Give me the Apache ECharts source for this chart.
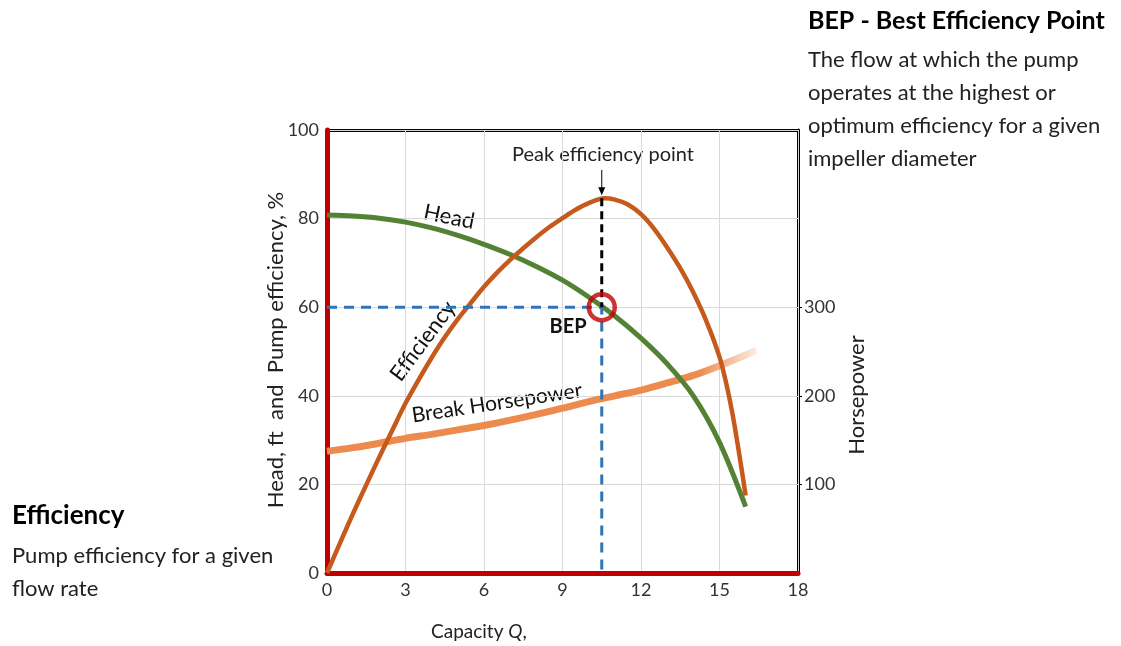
<!DOCTYPE html>
<html>
<head>
<meta charset="utf-8">
<script src="https://cdn.jsdelivr.net/npm/echarts@6/dist/echarts.min.js"></script>
<style>html,body{margin:0;padding:0;background:#fff;}#c{width:1121px;height:646px;}</style>
</head>
<body>
<div id="c"></div>
<script>
// Capacity values (x) and curve values
const headX = [0, 1, 2, 3, 4, 5, 6, 7, 8, 9, 10, 11, 12, 13, 14, 15, 16];
const headY = [80.8, 80.6, 80.1, 79.2, 77.9, 76.2, 74.2, 71.9, 69.2, 66.1, 62.3, 58.0, 53.0, 47.2, 40.0, 29.5, 15.0];
const effX = [0, 0.5, 1, 1.5, 2, 2.5, 3, 3.5, 4, 4.5, 5, 5.5, 6, 6.5, 7, 7.5, 8, 8.5, 9, 9.5, 10, 10.6, 11, 11.5, 12, 12.5, 13, 13.5, 14, 14.5, 15, 15.25, 15.5, 15.75, 16];
const effY = [0, 6.8, 13.5, 19.9, 26.2, 32.3, 38.3, 43.6, 48.6, 53.2, 57.3, 61.0, 64.6, 67.8, 70.7, 73.3, 75.8, 78.1, 80.1, 82.0, 83.5, 84.6, 84.3, 83.2, 81.0, 77.7, 73.5, 68.8, 63.3, 56.8, 48.8, 43.0, 35.8, 27.0, 17.5];
const bhpX = [0, 1, 2, 3, 4, 5, 6, 7, 8, 9, 10, 11, 12, 13, 14, 15, 16, 16.4];
const bhpHp = [137.5, 141.5, 146.5, 152, 156.5, 161.5, 166.5, 172.5, 179, 186, 193.5, 200, 206.5, 214.5, 223, 234, 246, 251.5];
const xTicks = [0, 3, 6, 9, 12, 15, 18];
const leftTicks = [0, 20, 40, 60, 80, 100];
const hpTicks = [100, 200, 300];
const bep = [10.5, 60];
const peak = [10.5, 84.6];
const arrowFrom = [10.5, 91];
const arrowTo = [10.5, 86.2];

const FONT = 'Lato, "Open Sans", sans-serif';
const chart = echarts.init(document.getElementById('c'));

const zip = (xs, ys) => xs.map((x, i) => [x, ys[i]]);

chart.setOption({
  animation: false,
  backgroundColor: '#fff',
  textStyle: { fontFamily: FONT },
  grid: { left: 327, right: 323, top: 130, bottom: 73 },
  xAxis: [{
    type: 'value', min: 0, max: 18, interval: 3, position: 'bottom',
    axisLine: { show: true, onZero: false, lineStyle: { color: '#c00000', width: 5 } },
    axisTick: { show: false },
    axisLabel: { fontSize: 18, color: '#333', margin: 8, fontFamily: FONT, customValues: xTicks },
    splitLine: { show: true, lineStyle: { color: '#d9d9d9', width: 1 } },
    z: 3
  }, {
    type: 'value', min: 0, max: 18, interval: 3, position: 'top',
    axisLine: { show: true, onZero: false, lineStyle: { color: '#000', width: 3 } },
    axisTick: { show: false }, axisLabel: { show: false }, splitLine: { show: false },
    z: 2
  }],
  yAxis: [{
    type: 'value', min: 0, max: 100, interval: 20, position: 'left',
    axisLine: { show: true, onZero: false, lineStyle: { color: '#c00000', width: 5 } },
    axisTick: { show: false },
    axisLabel: { fontSize: 18, color: '#333', margin: 8, fontFamily: FONT, customValues: leftTicks },
    splitLine: { show: true, lineStyle: { color: '#d9d9d9', width: 1 } },
    z: 3
  }, {
    type: 'value', min: 0, max: 500, interval: 100, position: 'right',
    axisLine: { show: true, onZero: false, lineStyle: { color: '#000', width: 3 } },
    axisTick: { show: true, length: 4, lineStyle: { color: '#000', width: 1 }, customValues: hpTicks },
    axisLabel: { fontSize: 18, color: '#333', margin: 6, fontFamily: FONT, customValues: hpTicks },
    splitLine: { show: false },
    z: 2
  }],
  series: [
    {
      name: 'Break Horsepower', type: 'line', yAxisIndex: 1, smooth: 0.3, symbol: 'none',
      data: zip(bhpX, bhpHp),
      lineStyle: { width: 7, cap: 'butt', color: new echarts.graphic.LinearGradient(0, 0, 1, 0, [
        { offset: 0, color: '#ed8b4f' }, { offset: 0.86, color: '#ed8b4f' }, { offset: 1, color: 'rgba(237,139,79,0.12)' }]) },
      z: 3
    },
    {
      name: 'Head', type: 'line', smooth: 0.3, symbol: 'none',
      data: zip(headX, headY),
      lineStyle: { width: 5, color: '#548235' }, z: 4
    },
    {
      name: 'Efficiency', type: 'line', smooth: 0.3, symbol: 'none',
      data: zip(effX, effY),
      lineStyle: { width: 4.5, color: '#c55a1c' }, z: 4
    },
    {
      name: 'bep-guide', type: 'line', symbol: 'none',
      data: [[0, bep[1]], bep, [bep[0], 0]],
      lineStyle: { width: 3, color: '#2e75b6', type: [10, 7] }, z: 5
    },
    {
      name: 'peak-guide', type: 'line', symbol: 'none',
      data: [peak, bep],
      lineStyle: { width: 3, color: '#000', type: [8, 5] }, z: 5
    },
    {
      name: 'arrow', type: 'line', showSymbol: true,
      data: [{ value: arrowFrom, symbol: 'none' }, { value: arrowTo, symbol: 'triangle', symbolRotate: 180, symbolSize: [7, 8] }],
      itemStyle: { color: '#000' },
      lineStyle: { width: 1, color: '#000' }, z: 5
    },
    {
      name: 'BEP', type: 'scatter', symbol: 'circle', symbolSize: 26,
      data: [bep],
      itemStyle: { color: 'rgba(0,0,0,0)', borderColor: '#c00000', borderWidth: 4.5 }, z: 10
    }
  ],
  graphic: [
    { type: 'text', left: 808, top: 8, style: { text: 'BEP - Best Efficiency Point', font: 'bold 25px ' + FONT, fill: '#000' } },
    { type: 'text', left: 808, top: 43, style: { text: 'The flow at which the pump\noperates at the highest or\noptimum efficiency for a given\nimpeller diameter', font: '22px ' + FONT, fill: '#222', lineHeight: 33 } },
    { type: 'text', left: 12, top: 503, style: { text: 'Efficiency', font: 'bold 26px ' + FONT, fill: '#000' } },
    { type: 'text', left: 12, top: 539, style: { text: 'Pump efficiency for a given\nflow rate', font: '22px ' + FONT, fill: '#222', lineHeight: 33 } },
    { type: 'text', x: 276, y: 350, rotation: Math.PI / 2, style: { text: 'Head, ft  and  Pump efficiency, %', font: '22px ' + FONT, fill: '#222', align: 'center', verticalAlign: 'middle' } },
    { type: 'text', x: 857, y: 395, rotation: Math.PI / 2, style: { text: 'Horsepower', font: '22px ' + FONT, fill: '#222', align: 'center', verticalAlign: 'middle' } },
    { type: 'text', x: 431, y: 632, style: { text: '{a|Capacity }{b|Q}{a|,}', align: 'left', verticalAlign: 'middle', rich: { a: { font: '19px ' + FONT, fill: '#222' }, b: { font: 'italic 19px ' + FONT, fill: '#222' } } } },
    { type: 'text', x: 603, y: 155, style: { text: 'Peak efficiency point', font: '20px ' + FONT, fill: '#222', align: 'center', verticalAlign: 'middle' } },
    { type: 'text', x: 568, y: 327, style: { text: 'BEP', font: 'bold 20px ' + FONT, fill: '#111', align: 'center', verticalAlign: 'middle' } },
    { type: 'text', x: 449, y: 217, rotation: -0.2, style: { text: 'Head', font: '22px ' + FONT, fill: '#111', align: 'center', verticalAlign: 'middle' } },
    { type: 'text', x: 423, y: 341, rotation: 0.93, style: { text: 'Efficiency', font: '22px ' + FONT, fill: '#111', align: 'center', verticalAlign: 'middle' } },
    { type: 'text', x: 497, y: 403, rotation: 0.15, style: { text: 'Break Horsepower', font: '21px ' + FONT, fill: '#111', align: 'center', verticalAlign: 'middle' } }
  ]
});
</script>
</body>
</html>
